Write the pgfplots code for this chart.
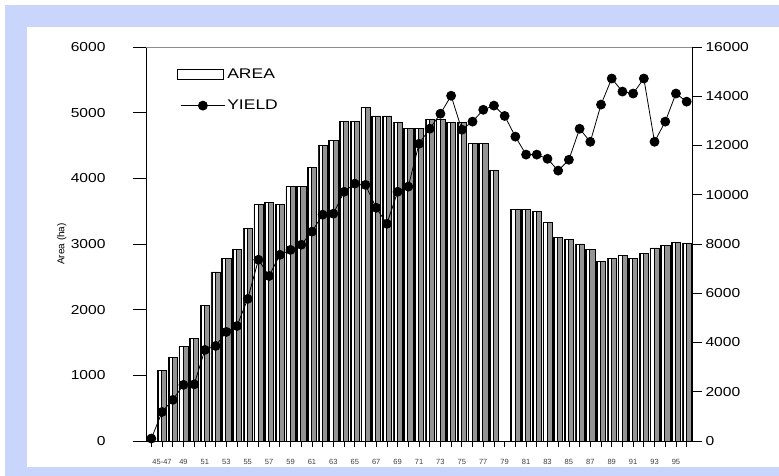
\documentclass[border=0pt]{standalone}
\usepackage{pgfplots}
\pgfplotsset{compat=1.18}
\usepackage{graphicx}
\usepackage{fontspec}
\setmainfont{Liberation Sans}
\definecolor{lav}{RGB}{201,213,251}
\pgfplotstableread{
x y
1 1080
2 1270
3 1435
4 1565
5 2070
6 2575
7 2785
8 2920
9 3240
10 3600
11 3630
12 3600
13 3880
14 3880
15 4170
16 4500
17 4580
18 4870
19 4870
20 5080
21 4950
22 4950
23 4850
24 4760
25 4760
26 4900
27 4900
28 4850
29 4850
30 4530
31 4530
32 4120
34 3530
35 3530
36 3500
37 3330
38 3100
39 3070
40 3000
41 2920
42 2740
43 2780
44 2830
45 2780
46 2860
47 2940
48 2980
49 3030
50 3010
}\areatable
\begin{document}
\begin{tikzpicture}[x=1pt,y=1pt]
\fill[white] (0,0) rectangle (779,476);
\fill[lav] (5,0) rectangle (779,471);
\fill[white] (27,9) rectangle (779,449);
\begin{axis}[
  at={(146pt,35pt)}, anchor=south west,
  scale only axis, width=546pt, height=394pt,
  xmin=-0.5, xmax=50.5, ymin=0, ymax=6000,
  axis x line*=bottom, axis y line*=left,
  axis line style={black, line width=0.9pt},
  /pgf/number format/assume math mode=true,
  /pgf/number format/1000 sep={},
  ytick={0,1000,...,6000},
  yticklabel={\scalebox{1.2}[1]{\pgfmathprintnumber{\tick}}},
  yticklabel style={font=\fontsize{13}{13}\selectfont, xshift=-24pt},
  tick align=outside,
  major tick length=13pt,
  xtick={1,3,...,49},
  xticklabels={45-47,49,51,53,55,57,59,61,63,65,67,69,71,73,75,77,79,81,83,85,87,89,91,93,95},
  xticklabel style={font=\fontsize{7.5}{7.5}\selectfont, text=black!75, yshift=-2pt},
  major x tick style={draw=none},
  minor xtick={0,...,50},
  minor x tick style={black, line width=0.7pt},
  minor tick length=6pt,
  ytick style={black, line width=0.7pt},
  ylabel={Area (ha)},
  ylabel style={at={(axis description cs:-0.154,0.5)}, anchor=center, font=\fontsize{10}{10}\selectfont},
  clip=false,
]
\addplot[ybar, bar width=0.86, bar shift=0pt, draw=black, line width=0.6pt,
  fill=black!42] table[x=x, y=y] {\areatable};
\addplot[ybar, bar width=0.3, bar shift=-0.2, draw=black, line width=0.6pt,
  fill=white] table[x=x, y=y] {\areatable};
\draw[black!45, line width=0.8pt] (rel axis cs:0,1) -- (rel axis cs:1,1);
\end{axis}
\begin{axis}[
  at={(146pt,35pt)}, anchor=south west,
  scale only axis, width=546pt, height=394pt,
  xmin=-0.5, xmax=50.5, ymin=0, ymax=16000,
  axis x line=none, axis y line*=right,
  axis line style={black, line width=0.9pt},
  scaled y ticks=false,
  /pgf/number format/assume math mode=true,
  /pgf/number format/1000 sep={},
  ytick={0,2000,...,16000},
  yticklabel={\scalebox{1.2}[1]{\pgfmathprintnumber{\tick}}},
  yticklabel style={font=\fontsize{13}{13}\selectfont},
  tick align=outside,
  major tick length=10pt,
  ytick style={black, line width=0.7pt},
  legend style={draw=none, fill=none, at={(0.05,0.955)}, anchor=north west,
    font=\fontsize{14}{14}\selectfont, row sep=16pt},
  legend cell align=left,
]
\addlegendimage{legend image code/.code={\draw[black, fill=white, line width=0.8pt] (0pt,-5pt) rectangle (46pt,5pt);}}
\addlegendentry{\scalebox{1.25}[1]{AREA}}
\addplot[black, line width=0.8pt, mark=*, mark size=4.5pt,
  legend image code/.code={\draw[black, line width=0.8pt] (4pt,0pt) -- (48pt,0pt); \fill[black] (26pt,0pt) circle (4.5pt);}]
coordinates {
(0,100) (1,1180) (2,1670) (3,2280) (4,2300) (5,3700) (6,3860) (7,4430)
(8,4670) (9,5770) (10,7360) (11,6700) (12,7560) (13,7760) (14,7970)
(15,8500) (16,9190) (17,9230) (18,10120) (19,10450) (20,10400) (21,9470)
(22,8820) (23,10120) (24,10330) (25,12070) (26,12680) (27,13290) (28,14020)
(29,12640) (30,12970) (31,13450) (32,13620) (33,13200) (34,12360) (35,11630)
(36,11630) (37,11460) (38,10980) (39,11420) (40,12680) (41,12150) (42,13660)
(43,14720) (44,14190) (45,14110) (46,14720) (47,12150) (48,12970) (49,14110)
(50,13780)
};
\addlegendentry{\scalebox{1.25}[1]{YIELD}}
\end{axis}
\end{tikzpicture}
\end{document}
